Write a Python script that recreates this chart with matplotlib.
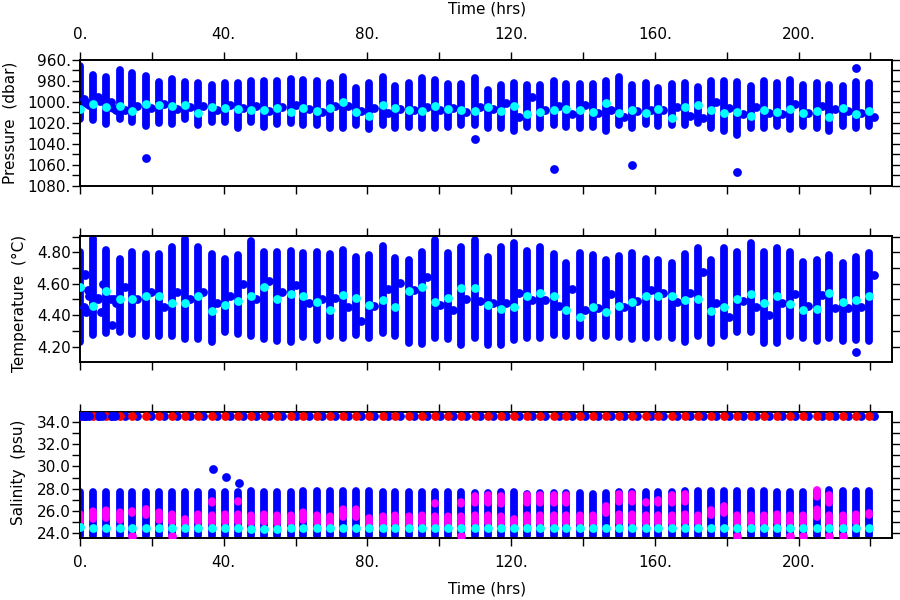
import matplotlib
matplotlib.use("Agg")
import matplotlib.pyplot as plt
from matplotlib.ticker import MultipleLocator, FuncFormatter

plt.rcParams['font.family'] = ['DejaVu Sans']

# ---------------- data ----------------
times = [0.0, 3.7, 7.3, 11.0, 14.6, 18.3, 22.0, 25.6, 29.3, 32.9,
         36.6, 40.3, 43.9, 47.6, 51.2, 54.9, 58.6, 62.2, 65.9, 69.5,
         73.2, 76.9, 80.5, 84.2, 87.8, 91.5, 95.2, 98.8, 102.5, 106.1,
         109.8, 113.5, 117.1, 120.8, 124.4, 128.1, 131.8, 135.4, 139.1, 142.7,
         146.4, 150.1, 153.7, 157.4, 161.0, 164.7, 168.4, 172.0, 175.7, 179.3,
         183.0, 186.7, 190.3, 194.0, 197.6, 201.3, 205.0, 208.6, 212.3, 215.9,
         219.6]
side_lag = 1.4  # hours between profile and the following single sample

p_top = [966, 974, 976, 970, 972, 975, 981, 978, 981, 982,
         984, 982, 982, 980, 980, 980, 978, 979, 980, 982,
         976, 987, 982, 976, 985, 982, 977, 979, 983, 983,
         977, 989, 984, 982, 984, 984, 980, 983, 983, 983,
         980, 976, 984, 982, 987, 983, 982, 986, 980, 980,
         981, 985, 980, 982, 979, 984, 982, 984, 985, 981,
         982]
p_bot = [1016, 1017, 1021, 1016, 1019, 1023, 1020, 1021, 1016, 1022,
         1019, 1019, 1025, 1019, 1024, 1021, 1020, 1022, 1022, 1025,
         1025, 1022, 1026, 1022, 1025, 1024, 1025, 1025, 1024, 1022,
         1022, 1025, 1025, 1028, 1024, 1025, 1022, 1024, 1025, 1024,
         1028, 1022, 1025, 1021, 1023, 1022, 1022, 1020, 1025, 1028,
         1032, 1025, 1025, 1023, 1026, 1023, 1025, 1028, 1023, 1025,
         1023]
p_mean = [1007, 1002, 1005, 1004, 1009, 1002, 1003, 1004, 1003, 1011,
          1005, 1006, 1007, 1008, 1008, 1006, 1010, 1006, 1009, 1006,
          1000, 1010, 1013, 1003, 1006, 1008, 1009, 1004, 1007, 1008,
          1009, 1005, 1009, 1004, 1012, 1010, 1008, 1007, 1008, 1010,
          1001, 1011, 1008, 1011, 1007, 1015, 1005, 1003, 1008, 1011,
          1010, 1013, 1008, 1010, 1007, 1011, 1009, 1014, 1006, 1012,
          1009]
p_side = [1000, 995, 1005, 1008, 1004, 1006, 1002, 1007, 1005, 1004,
          1008, 1003, 1006, 1004, 1009, 1005, 1003, 1007, 1010, 1004,
          1004, 1009, 1006, 1011, 1007, 1008, 1005, 1008, 1006, 1010,
          1005, 1007, 1001, 1014, 995, 1008, 1004, 1012, 1003, 1011,
          1008, 1014, 1009, 1008, 1008, 1005, 1013, 1015, 1000, 1006,
          1012, 1005, 1011, 1012, 1002, 1011, 1004, 1007, 1009, 1011,
          1014]
p_out_t = [18.3, 109.8, 131.8, 153.7, 183.0, 215.9]
p_out_v = [1054, 1035, 1064, 1060, 1067, 968]
p_early_t = [1.0, 1.7, 2.4, 5.0, 5.6, 8.6, 9.3, 10.0]
p_early_v = [997, 1001, 1003, 996, 999, 1000, 1006, 1008]

T_top = [4.805, 4.89, 4.815, 4.755, 4.80, 4.79, 4.79, 4.837, 4.884, 4.837,
         4.79, 4.755, 4.785, 4.87, 4.80, 4.80, 4.81, 4.795, 4.80, 4.79,
         4.816, 4.773, 4.784, 4.841, 4.762, 4.75, 4.80, 4.88, 4.795, 4.837,
         4.88, 4.773, 4.837, 4.862, 4.81, 4.837, 4.79, 4.73, 4.795, 4.785,
         4.75, 4.775, 4.795, 4.758, 4.75, 4.735, 4.79, 4.827, 4.75, 4.827,
         4.80, 4.858, 4.80, 4.827, 4.805, 4.74, 4.75, 4.78, 4.73, 4.77,
         4.795]
T_bot = [4.23, 4.275, 4.285, 4.29, 4.28, 4.27, 4.27, 4.265, 4.25, 4.25,
         4.23, 4.29, 4.28, 4.27, 4.25, 4.235, 4.23, 4.264, 4.24, 4.268,
         4.254, 4.275, 4.254, 4.285, 4.265, 4.225, 4.217, 4.254, 4.247, 4.21,
         4.254, 4.21, 4.21, 4.245, 4.254, 4.254, 4.275, 4.265, 4.269, 4.254,
         4.265, 4.26, 4.248, 4.254, 4.26, 4.254, 4.232, 4.269, 4.226, 4.265,
         4.295, 4.295, 4.226, 4.226, 4.269, 4.254, 4.233, 4.254, 4.233, 4.24,
         4.233]
T_mean = [4.58, 4.46, 4.555, 4.50, 4.505, 4.52, 4.52, 4.48, 4.475, 4.525,
          4.427, 4.465, 4.49, 4.52, 4.578, 4.505, 4.535, 4.525, 4.483, 4.434,
          4.53, 4.512, 4.466, 4.497, 4.455, 4.555, 4.582, 4.487, 4.508, 4.572,
          4.57, 4.466, 4.44, 4.455, 4.52, 4.54, 4.525, 4.43, 4.39, 4.45,
          4.423, 4.458, 4.487, 4.523, 4.525, 4.52, 4.497, 4.50, 4.427, 4.45,
          4.50, 4.536, 4.476, 4.525, 4.472, 4.434, 4.44, 4.54, 4.483, 4.497,
          4.525]
T_side = [4.657, 4.508, 4.50, 4.58, 4.50, 4.55, 4.45, 4.55, 4.50, 4.55,
          4.48, 4.52, 4.60, 4.50, 4.62, 4.55, 4.593, 4.48, 4.50, 4.508,
          4.455, 4.36, 4.46, 4.565, 4.603, 4.561, 4.646, 4.466, 4.434, 4.50,
          4.493, 4.48, 4.48, 4.54, 4.497, 4.497, 4.46, 4.565, 4.43, 4.444,
          4.536, 4.455, 4.493, 4.561, 4.54, 4.487, 4.54, 4.678, 4.476, 4.387,
          4.493, 4.455, 4.40, 4.48, 4.536, 4.46, 4.53, 4.444, 4.444, 4.45,
          4.657]
T_out_t = [215.9]
T_out_v = [4.168]
T_early_t = [1.0, 1.5, 1.8, 2.2, 2.5, 3.0, 5.0, 5.8, 6.3, 8.8, 9.5, 10.0]
T_early_v = [4.45, 4.66, 4.42, 4.56, 4.52, 4.44, 4.50, 4.42, 4.60, 4.34, 4.50, 4.48]

S_top = [27.7, 27.7, 27.7, 27.7, 27.7, 27.7, 27.7, 27.7, 27.7, 27.7,
         27.7, 27.7, 27.7, 27.8, 27.7, 27.7, 27.7, 27.8, 27.8, 27.8,
         27.8, 27.8, 27.8, 27.7, 27.7, 27.7, 27.7, 27.7, 27.7, 27.7,
         27.6, 27.6, 27.7, 27.7, 27.5, 27.6, 27.6, 27.6, 27.6, 27.5,
         27.6, 27.7, 27.7, 27.7, 27.7, 27.7, 27.8, 27.8, 27.8, 27.8,
         27.8, 27.8, 27.8, 27.7, 27.7, 27.7, 27.8, 27.9, 27.8, 27.8,
         27.8]
S_floor = 23.75
S_deep = 34.55
S_mean = [24.55, 24.5, 24.45, 24.45, 24.45, 24.45, 24.45, 24.45, 24.45, 24.45,
          24.45, 24.45, 24.45, 24.4, 24.4, 24.4, 24.45, 24.45, 24.45, 24.45,
          24.45, 24.45, 24.45, 24.45, 24.45, 24.45, 24.45, 24.45, 24.45, 24.45,
          24.45, 24.45, 24.45, 24.45, 24.45, 24.45, 24.45, 24.45, 24.45, 24.45,
          24.45, 24.45, 24.45, 24.45, 24.45, 24.45, 24.45, 24.45, 24.45, 24.45,
          24.45, 24.45, 24.45, 24.45, 24.45, 24.45, 24.45, 24.45, 24.45, 24.45,
          24.45]
mag_hi = [26.1, 26.2, 26.8, 26.7, 26.0, 26.2, 26.1, 25.9, 25.3, 26.7,
          26.9, 25.9, 26.9, 26.5, 26.4, 26.7, 26.4, 26.3, 26.4, 26.2,
          26.4, 26.4, 25.4, 25.6, 25.8, 25.8, 26.5, 26.7, 26.1, 26.8,
          27.3, 27.4, 27.6, 25.3, 27.4, 27.4, 27.4, 27.6, 26.5, 26.7,
          26.4, 27.6, 27.7, 26.8, 27.0, 27.7, 27.9, 26.2, 26.1, 26.4,
          25.8, 26.1, 26.2, 26.1, 26.2, 25.8, 27.9, 27.9, 26.2, 26.4,
          25.8]
mag_lo = [25.0, 25.3, 25.4, 25.2, 25.8, 25.6, 25.2, 25.0, 24.9, 25.0,
          24.9, 25.0, 25.0, 24.9, 25.0, 24.9, 24.9, 25.2, 24.9, 24.8,
          25.5, 25.5, 24.8, 24.8, 24.9, 24.8, 24.9, 24.8, 24.8, 24.8,
          24.9, 24.9, 24.8, 24.8, 24.9, 24.9, 24.9, 24.9, 24.9, 24.9,
          25.8, 25.0, 25.0, 24.9, 24.9, 24.9, 25.0, 24.9, 25.6, 25.8,
          24.9, 24.9, 24.9, 25.0, 24.9, 24.9, 25.5, 24.9, 24.9, 25.0,
          25.6]
mag_floor_t = [14.6, 25.6, 106.1, 183.0, 197.6, 201.3, 208.6, 212.3]
S_out_t = [36.9, 40.6, 44.2]
S_out_v = [29.8, 29.07, 28.48]
S_early_t = [0.3, 1.0, 1.8, 2.6, 5.2, 6.0, 8.8, 9.6]

BLUE = '#0000ff'
CYAN = '#00ffff'
MAG = '#ff00ff'
RED = '#ff0000'
LW = 5.6
MS = 40

fig = plt.figure(figsize=(9, 6), dpi=100)
ax1 = fig.add_axes([0.0889, 0.6905, 0.9022, 0.2095])
ax2 = fig.add_axes([0.0889, 0.3972, 0.9022, 0.2100])
ax3 = fig.add_axes([0.0889, 0.1038, 0.9022, 0.2100])

side_t = [t + side_lag for t in times]


def bodies(ax, lo, hi, color, ls='solid'):
    ax.vlines(times, lo, hi, colors=color, linewidth=LW, capstyle='round',
              linestyles=ls, zorder=2)


def dots(ax, t, v, color, z=3):
    ax.scatter(t, v, s=MS, color=color, linewidths=0, zorder=z)


# Pressure
bodies(ax1, p_top, p_bot, BLUE)
dots(ax1, side_t, p_side, BLUE)
dots(ax1, p_out_t, p_out_v, BLUE)
dots(ax1, p_early_t, p_early_v, BLUE)
dots(ax1, times, p_mean, CYAN, 4)

# Temperature
bodies(ax2, T_bot, T_top, BLUE)
dots(ax2, side_t, T_side, BLUE)
dots(ax2, T_out_t, T_out_v, BLUE)
dots(ax2, T_early_t, T_early_v, BLUE)
dots(ax2, times, T_mean, CYAN, 4)

# Salinity
bodies(ax3, [S_floor] * len(times), S_top, BLUE)
bodies(ax3, mag_lo, mag_hi, MAG, ls=(0, (1.0, 1.6)))
dots(ax3, mag_floor_t, [S_floor] * len(mag_floor_t), MAG)
dots(ax3, times, S_mean, CYAN, 4)
dots(ax3, S_out_t, S_out_v, BLUE)
dots(ax3, side_t, [S_deep] * len(side_t), BLUE)
dots(ax3, times, [S_deep] * len(times), RED, 4)
dots(ax3, S_early_t, [S_deep] * len(S_early_t), BLUE, 5)


def style(ax, ylim, major, minor, fmt, top_lab=False, bot_lab=False):
    ax.set_xlim(0, 226)
    ax.set_ylim(*ylim)
    ax.xaxis.set_major_locator(MultipleLocator(40))
    ax.xaxis.set_minor_locator(MultipleLocator(20))
    ax.xaxis.set_major_formatter(FuncFormatter(lambda v, p: f"{v:.0f}."))
    ax.yaxis.set_major_locator(MultipleLocator(major))
    ax.yaxis.set_minor_locator(MultipleLocator(minor))
    ax.yaxis.set_major_formatter(FuncFormatter(fmt))
    ax.tick_params(which='both', direction='out', length=5.8, width=1.0,
                   top=True, right=True, bottom=True, left=True,
                   labeltop=top_lab, labelbottom=bot_lab, labelright=False,
                   labelsize=11, colors='black')
    ax.tick_params(axis='x', which='both', pad=7)
    ax.tick_params(axis='y', which='both', pad=1)
    for s in ax.spines.values():
        s.set_linewidth(1.4)


style(ax1, (1080, 960), 20, 10, lambda v, p: f"{v:.0f}.", top_lab=True)
style(ax2, (4.104, 4.906), 0.2, 0.1, lambda v, p: f"{v:.2f}")
style(ax3, (23.6, 34.9), 2, 1, lambda v, p: f"{v:.1f}", bot_lab=True)

fig.text(487 / 900, 1 - 9 / 600, "Time (hrs)", ha='center', va='center', fontsize=11)
fig.text(487 / 900, 1 - 589 / 600, "Time (hrs)", ha='center', va='center', fontsize=11)
fig.text(10 / 900, 1 - 123 / 600, "Pressure  (dbar)", rotation=90, ha='center', va='center', fontsize=11)
fig.text(19 / 900, 1 - 303 / 600, "Temperature  (°C)", rotation=90, ha='center', va='center', fontsize=11)
fig.text(19 / 900, 1 - 472 / 600, "Salinity  (psu)", rotation=90, ha='center', va='center', fontsize=11)

fig.savefig("out.png", dpi=100)
